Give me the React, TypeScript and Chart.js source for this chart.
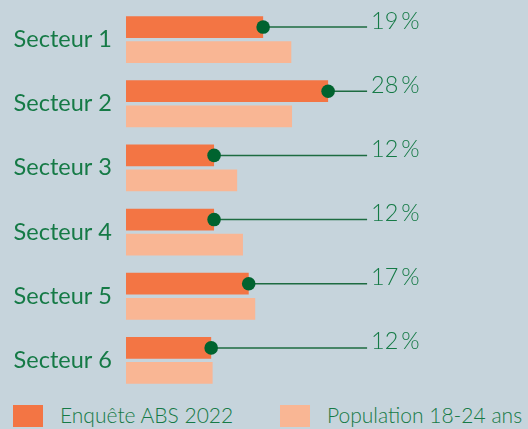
import React, { useEffect, useRef } from "react";
import { Chart, registerables } from "chart.js";

Chart.register(...registerables);

const categories = ["Secteur 1", "Secteur 2", "Secteur 3", "Secteur 4", "Secteur 5", "Secteur 6"];
const enqueteValues = [19, 28, 12.2, 12.2, 17, 11.8];
const populationValues = [22.9, 23, 15.4, 16.2, 17.9, 12];
const enqueteLabels = ["19\u2009%", "28\u2009%", "12\u2009%", "12\u2009%", "17\u2009%", "12\u2009%"];
const seriesNames = ["Enquête ABS 2022", "Population 18-24 ans"];
const leaderEndValue = 33.4;

const BG = "#c6d4dc";
const ORANGE = "#f37544";
const LIGHT = "#f9b694";
const GREEN_TEXT = "#157a46";
const DOT = "#00632f";
const LINE = "#1d6b41";

const leaderPlugin = {
  id: "leaders",
  afterDatasetsDraw(chart: any) {
    const ctx = chart.ctx;
    const meta = chart.getDatasetMeta(0);
    const xs = chart.scales.x;
    const endX = xs.getPixelForValue(leaderEndValue);
    ctx.save();
    meta.data.forEach((bar: any, i: number) => {
      const y = bar.y;
      ctx.strokeStyle = LINE;
      ctx.lineWidth = 1.5;
      ctx.beginPath();
      ctx.moveTo(bar.x, y);
      ctx.lineTo(endX, y);
      ctx.stroke();
      ctx.fillStyle = DOT;
      ctx.beginPath();
      ctx.arc(bar.x, y, 6.8, 0, Math.PI * 2);
      ctx.fill();
      ctx.fillStyle = GREEN_TEXT;
      ctx.font = "300 23.5px Lato";
      ctx.textAlign = "left";
      ctx.textBaseline = "alphabetic";
      ctx.fillText(enqueteLabels[i], endX + 4, y + 1.5);
    });
    ctx.restore();
  },
};

export default function App() {
  const ref = useRef<HTMLCanvasElement | null>(null);
  useEffect(() => {
    document.body.style.margin = "0";
    document.body.style.background = BG;
    const chart = new Chart(ref.current as HTMLCanvasElement, {
      type: "bar",
      data: {
        labels: categories,
        datasets: [
          {
            label: seriesNames[0],
            data: enqueteValues,
            backgroundColor: ORANGE,
            barPercentage: 0.87,
            categoryPercentage: 0.78,
          },
          {
            label: seriesNames[1],
            data: populationValues,
            backgroundColor: LIGHT,
            barPercentage: 0.87,
            categoryPercentage: 0.78,
          },
        ],
      },
      options: {
        indexAxis: "y",
        animation: false,
        responsive: false,
        maintainAspectRatio: false,
        layout: { padding: { top: 7.5, bottom: 7.5, right: 5, left: 0 } },
        plugins: {
          legend: { display: false },
          tooltip: { enabled: false },
        },
        scales: {
          x: { display: false, min: 0, max: 55 },
          y: {
            grid: { display: false, drawTicks: false },
            border: { display: false },
            ticks: {
              color: GREEN_TEXT,
              padding: 14,
              font: { family: "Lato", size: 23.5, weight: "normal" },
            },
            afterFit(scale: any) {
              scale.width = 126;
              scale.paddingTop = 0;
              scale.paddingBottom = 0;
            },
          },
        },
      },
      plugins: [leaderPlugin],
    } as any);
    return () => chart.destroy();
  }, []);

  const legendItem = (left: number, textLeft: number, color: string, text: string) => (
    <>
      <div style={{ position: "absolute", left, top: 405, width: 30, height: 22, background: color }} />
      <div
        style={{
          position: "absolute",
          left: textLeft,
          top: 402,
          height: 28,
          lineHeight: "28px",
          font: "300 21px Lato",
          color: GREEN_TEXT,
          whiteSpace: "nowrap",
        }}
      >
        {text}
      </div>
    </>
  );

  return (
    <div style={{ position: "fixed", left: 0, top: 0, width: 528, height: 429, background: BG, overflow: "hidden" }}>
      <canvas ref={ref} width={528} height={400} style={{ position: "absolute", left: 0, top: 0 }} />
      {legendItem(13, 60, ORANGE, seriesNames[0])}
      {legendItem(280, 327, LIGHT, seriesNames[1])}
    </div>
  );
}
